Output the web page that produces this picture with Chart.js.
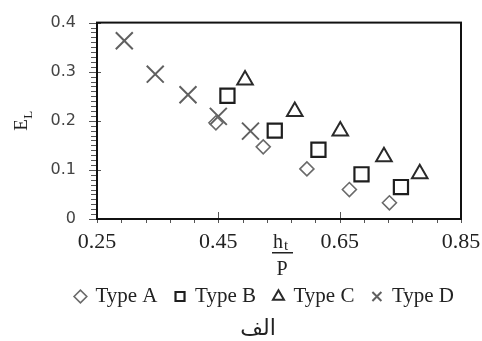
<!DOCTYPE html>
<html>
<head>
<meta charset="utf-8">
<script src="https://cdn.jsdelivr.net/npm/chart.js@4.4.0/dist/chart.umd.min.js"></script>
<style>
  html, body { margin: 0; padding: 0; background: #fff; }
  #wrap { width: 482px; height: 341px; }
</style>
</head>
<body>
<div id="wrap"><canvas id="chart" width="482" height="341"></canvas></div>
<script>
// values (x = ht/P, y = EL)
const typeAx = [0.446, 0.524, 0.596, 0.666, 0.732];
const typeAy = [0.196, 0.147, 0.102, 0.060, 0.033];
const typeBx = [0.465, 0.543, 0.615, 0.686, 0.751];
const typeBy = [0.251, 0.180, 0.141, 0.091, 0.065];
const typeCx = [0.494, 0.576, 0.651, 0.723, 0.782];
const typeCy = [0.283, 0.219, 0.179, 0.127, 0.092];
const typeDx = [0.295, 0.346, 0.400, 0.450, 0.503];
const typeDy = [0.363, 0.295, 0.253, 0.209, 0.179];

const xTicks = [0.25, 0.45, 0.65, 0.85];
const yTicks = [0, 0.1, 0.2, 0.3, 0.4];
const xMinorStep = 0.04;
const yMinorStep = 0.01;

const seriesNames = ["Type A", "Type B", "Type C", "Type D"];
const caption = "الف";

function toPoints(xs, ys) {
  return xs.map((x, i) => ({ x: x, y: ys[i] }));
}

// frame, minor ticks, axis titles (fraction / subscript) and caption
const decorations = {
  id: "decorations",
  beforeDatasetsDraw(chart) {
    const { ctx, chartArea: a, scales } = chart;
    ctx.save();
    ctx.strokeStyle = "#555";
    ctx.lineWidth = 1;
    // x ticks
    for (let v = 0.25; v <= 0.8501; v += xMinorStep) {
      const px = Math.round(scales.x.getPixelForValue(v)) + 0.5;
      ctx.beginPath();
      ctx.moveTo(px, a.bottom);
      ctx.lineTo(px, a.bottom + 4);
      ctx.stroke();
    }
    xTicks.forEach(v => {
      const px = Math.round(scales.x.getPixelForValue(v)) + 0.5;
      ctx.beginPath();
      ctx.moveTo(px, a.bottom - 7);
      ctx.lineTo(px, a.bottom + 4);
      ctx.stroke();
    });
    // y ticks
    for (let v = 0; v <= 0.4001; v += yMinorStep) {
      const py = Math.round(scales.y.getPixelForValue(v)) + 0.5;
      ctx.beginPath();
      ctx.moveTo(a.left - 6, py);
      ctx.lineTo(a.left, py);
      ctx.stroke();
    }
    yTicks.forEach(v => {
      const py = Math.round(scales.y.getPixelForValue(v)) + 0.5;
      ctx.beginPath();
      ctx.moveTo(a.left - 8, py);
      ctx.lineTo(a.left + 4, py);
      ctx.stroke();
    });
    // frame
    ctx.strokeStyle = "#111";
    ctx.lineWidth = 2;
    ctx.strokeRect(a.left, a.top, a.right - a.left, a.bottom - a.top);
    ctx.restore();
  },
  afterDraw(chart) {
    const { ctx, chartArea: a } = chart;
    ctx.save();
    ctx.fillStyle = "#222";
    // ht / P
    const cx = (a.left + a.right) / 2 + 3;
    ctx.font = "20px 'Liberation Serif'";
    ctx.textBaseline = "alphabetic";
    ctx.textAlign = "right";
    ctx.fillText("h", cx + 1, a.bottom + 29);
    ctx.font = "15px 'Liberation Serif'";
    ctx.textAlign = "left";
    ctx.fillText("t", cx + 2, a.bottom + 31);
    ctx.fillRect(cx - 10, a.bottom + 33, 21, 1.5);
    ctx.font = "20px 'Liberation Serif'";
    ctx.textAlign = "center";
    ctx.fillText("P", cx, a.bottom + 56);
    // caption under the legend
    ctx.font = "22px 'DejaVu Sans'";
    ctx.textBaseline = "middle";
    ctx.fillText(caption, 258, 329);
    // EL rotated
    ctx.textBaseline = "alphabetic";
    ctx.translate(27, (a.top + a.bottom) / 2 + 2);
    ctx.rotate(-Math.PI / 2);
    ctx.font = "19px 'Liberation Serif'";
    ctx.textAlign = "left";
    ctx.fillText("E", -8, 0);
    ctx.font = "13px 'Liberation Serif'";
    ctx.fillText("L", 4, 5);
    ctx.restore();
  }
};

new Chart(document.getElementById("chart"), {
  type: "scatter",
  data: {
    datasets: [
      {
        label: seriesNames[0],
        data: toPoints(typeAx, typeAy),
        pointStyle: "rectRot",
        pointRadius: 7,
        borderColor: "#6a6a6a",
        backgroundColor: "rgba(255,255,255,0)",
        borderWidth: 1.6
      },
      {
        label: seriesNames[1],
        data: toPoints(typeBx, typeBy),
        pointStyle: "rect",
        pointRadius: 10,
        borderColor: "#1e1e1e",
        backgroundColor: "rgba(255,255,255,0)",
        borderWidth: 2.2
      },
      {
        label: seriesNames[2],
        data: toPoints(typeCx, typeCy),
        pointStyle: "triangle",
        pointRadius: 9,
        borderColor: "#2a2a2a",
        backgroundColor: "rgba(255,255,255,0)",
        borderWidth: 2
      },
      {
        label: seriesNames[3],
        data: toPoints(typeDx, typeDy),
        pointStyle: "crossRot",
        pointRadius: 12,
        borderColor: "#606060",
        backgroundColor: "rgba(255,255,255,0)",
        borderWidth: 2
      }
    ]
  },
  options: {
    responsive: false,
    animation: false,
    devicePixelRatio: 1,
    layout: { padding: { left: 0, top: 11, right: 10, bottom: 24 } },
    scales: {
      x: {
        type: "linear",
        min: 0.25,
        max: 0.85,
        afterBuildTicks: s => { s.ticks = xTicks.map(v => ({ value: v })); },
        afterFit: s => { s.height = 49; s.paddingRight = 21; },
        grid: { display: false },
        border: { display: false },
        ticks: {
          padding: 2,
          color: "#222",
          font: { family: "'Liberation Serif'", size: 22 },
          callback: v => v.toFixed(2)
        }
      },
      y: {
        type: "linear",
        min: 0,
        max: 0.4,
        afterBuildTicks: s => { s.ticks = yTicks.map(v => ({ value: v })); },
        afterFit: s => { s.width = 97; },
        grid: { display: false },
        border: { display: false },
        ticks: {
          padding: 13,
          color: "#444",
          font: { family: "'DejaVu Sans'", size: 16 },
          callback: v => (v === 0 ? "0" : v.toFixed(1))
        }
      }
    },
    plugins: {
      legend: {
        position: "bottom",
        align: "end",
        labels: {
          usePointStyle: true,
          boxWidth: 9,
          boxHeight: 9,
          padding: 18,
          color: "#222",
          font: { family: "'Liberation Serif'", size: 21 }
        }
      },
      title: { display: false },
      tooltip: { enabled: false }
    }
  },
  plugins: [decorations]
});
</script>
</body>
</html>
